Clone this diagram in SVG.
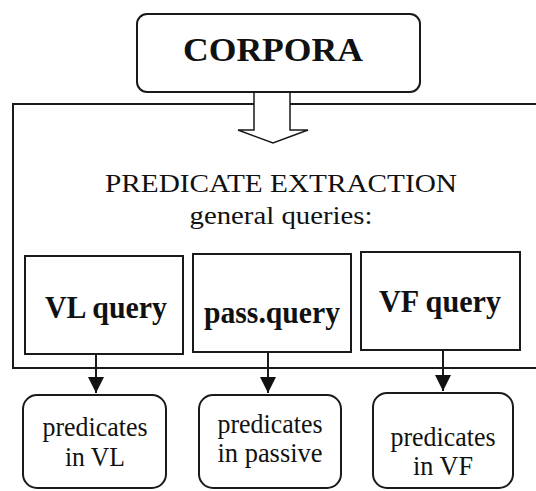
<svg xmlns="http://www.w3.org/2000/svg" width="536" height="491" viewBox="0 0 536 491">
  <style>
    .box { fill: #ffffff; stroke: #1a1a1a; stroke-width: 2; }
    .line { fill: none; stroke: #1a1a1a; stroke-width: 2; }
    text { font-family: 'Liberation Serif', serif; fill: #111; text-anchor: middle; }
    .bold { font-weight: bold; }
  </style>
  <defs>
    <marker id="tri" viewBox="0 0 16 16" refX="16" refY="8" markerWidth="16" markerHeight="16" markerUnits="userSpaceOnUse" orient="auto">
      <path d="M0,0 L16,8 L0,16 Z" fill="#111"/>
    </marker>
  </defs>
  <rect width="536" height="491" fill="#ffffff"/>

  <!-- extraction container -->
  <g id="extraction">
    <rect class="box" x="13" y="104" width="540" height="264"/>
    <text x="281" y="192" font-size="26" textLength="352" lengthAdjust="spacingAndGlyphs">PREDICATE EXTRACTION</text>
    <text x="281" y="224" font-size="26" textLength="183" lengthAdjust="spacingAndGlyphs">general queries:</text>
  </g>

  <g id="corpora">
    <rect class="box" x="137" y="14" width="283" height="78" rx="10"/>
    <text class="bold" x="273" y="61" font-size="33" textLength="180" lengthAdjust="spacingAndGlyphs">CORPORA</text>
  </g>

  <!-- hollow block arrow -->
  <g id="feed-arrow">
    <path d="M254,93 L254,130 L238,130 L273,143 L308,130 L290,130 L290,93" fill="#ffffff" stroke="#1a1a1a" stroke-width="1.5"/>
  </g>

  <g id="vl-query">
    <rect class="box" x="25" y="256" width="158" height="98"/>
    <text class="bold" x="106" y="318" font-size="31" textLength="122" lengthAdjust="spacingAndGlyphs">VL query</text>
  </g>
  <g id="pass-query">
    <rect class="box" x="193" y="254" width="158" height="98"/>
    <text class="bold" x="272" y="323" font-size="31" textLength="136" lengthAdjust="spacingAndGlyphs">pass.query</text>
  </g>
  <g id="vf-query">
    <rect class="box" x="361" y="252" width="159" height="98"/>
    <text class="bold" x="440" y="312" font-size="31" textLength="122" lengthAdjust="spacingAndGlyphs">VF query</text>
  </g>

  <g id="connectors">
    <line class="line" x1="96" y1="354" x2="96" y2="393" marker-end="url(#tri)"/>
    <line class="line" x1="268" y1="352" x2="268" y2="393" marker-end="url(#tri)"/>
    <line class="line" x1="443" y1="350" x2="443" y2="391" marker-end="url(#tri)"/>
  </g>

  <g id="pred-vl">
    <rect class="box" x="23" y="395" width="143" height="93" rx="14"/>
    <text x="95" y="436" font-size="27" textLength="105" lengthAdjust="spacingAndGlyphs">predicates</text>
    <text x="95" y="466" font-size="27" textLength="60" lengthAdjust="spacingAndGlyphs">in VL</text>
  </g>
  <g id="pred-passive">
    <rect class="box" x="199" y="395" width="142" height="93" rx="14"/>
    <text x="270" y="433" font-size="27" textLength="105" lengthAdjust="spacingAndGlyphs">predicates</text>
    <text x="270" y="462" font-size="27" textLength="105" lengthAdjust="spacingAndGlyphs">in passive</text>
  </g>
  <g id="pred-vf">
    <rect class="box" x="373" y="393" width="140" height="95" rx="14"/>
    <text x="443" y="446" font-size="27" textLength="105" lengthAdjust="spacingAndGlyphs">predicates</text>
    <text x="443" y="475" font-size="27" textLength="60" lengthAdjust="spacingAndGlyphs">in VF</text>
  </g>
</svg>
